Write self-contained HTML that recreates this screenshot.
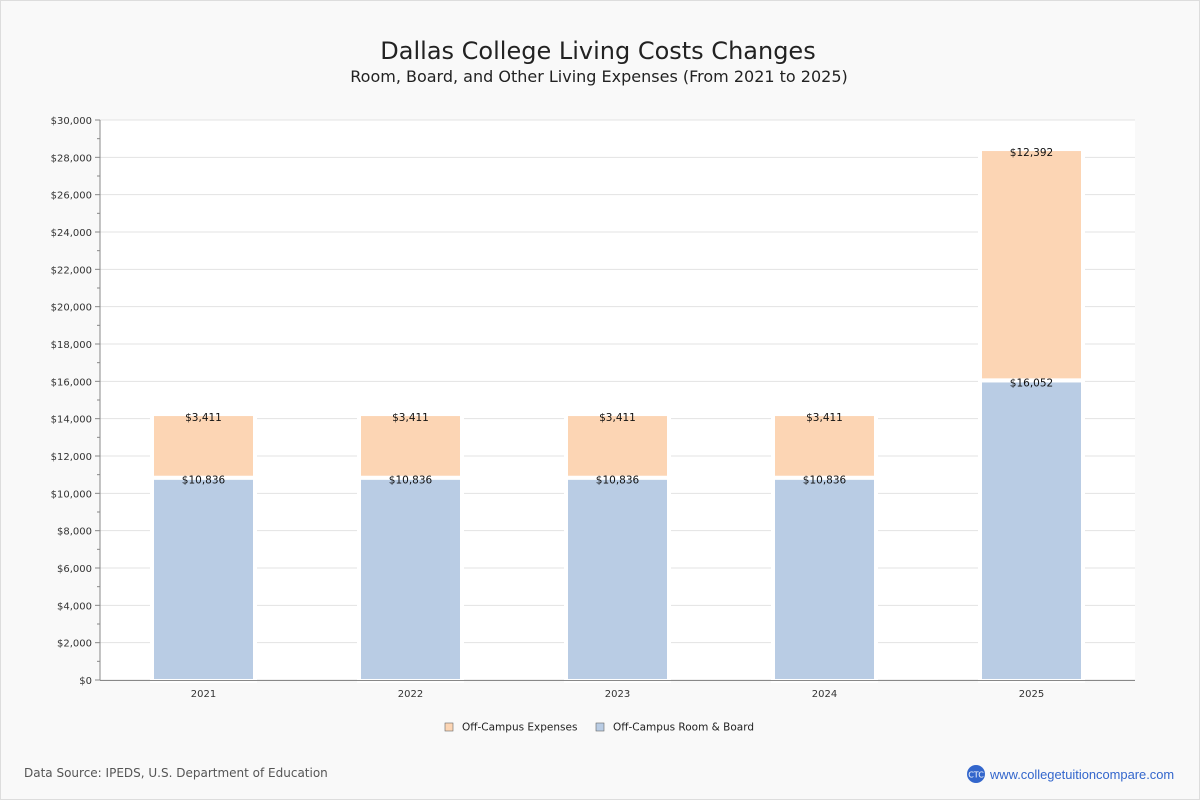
<!DOCTYPE html>
<html><head><meta charset="utf-8"><style>
body{margin:0;background:#fff;font-family:"DejaVu Sans","Liberation Sans",sans-serif;}
#wrap{position:relative;width:1198px;height:798px;border:1px solid #ddd;background:#f9f9f9;}
</style></head><body>
<div id="wrap">
<svg id="c" width="1198" height="798" style="position:absolute;left:0;top:0">
<text x="597" y="58" text-anchor="middle" font-size="24" fill="#222">Dallas College Living Costs Changes</text>
<text x="598" y="81" text-anchor="middle" font-size="16" fill="#222">Room, Board, and Other Living Expenses (From 2021 to 2025)</text>
<rect x="99" y="119" width="1035" height="560" fill="#fff"/>
<g id="grid"></g><g id="bars"></g><g id="axes"></g><g id="labels"></g>
<g>
<rect x="444" y="722" width="8" height="8" fill="#fcd5b4" stroke="#666" stroke-width="0.6"/>
<text x="461" y="729.5" font-size="10.5" fill="#222">Off-Campus Expenses</text>
<rect x="595" y="722" width="8" height="8" fill="#b9cce4" stroke="#666" stroke-width="0.6"/>
<text x="612" y="729.5" font-size="10.5" fill="#222">Off-Campus Room &amp; Board</text>
</g>
<text x="23" y="776" font-size="12" fill="#555">Data Source: IPEDS, U.S. Department of Education</text>
<circle cx="975" cy="773" r="9" fill="#3366cc"/>
<text x="975" y="776.5" text-anchor="middle" font-size="8" fill="#fff">CTC</text>
<text x="989" y="778" font-size="12.9" fill="#3366cc" font-family="Liberation Sans, sans-serif">www.collegetuitioncompare.com</text>
</svg>
</div>
<script>
const categories=["2021","2022","2023","2024","2025"];
const roomBoard=[10836,10836,10836,10836,16052];
const expenses=[3411,3411,3411,3411,12392];
const yTicks=[0,2000,4000,6000,8000,10000,12000,14000,16000,18000,20000,22000,24000,26000,28000,30000];
const NS="http://www.w3.org/2000/svg";
const X0=99,X1=1134,Y0=679,Y1=119,YMAX=30000;
const y=v=>Y0-(v/YMAX)*(Y0-Y1);
const bw=(X1-X0)/categories.length;
const xc=i=>X0+bw*(i+0.5);
function mk(t,a,p){const e=document.createElementNS(NS,t);for(const k in a)e.setAttribute(k,a[k]);p.appendChild(e);return e;}
const g=document.getElementById('grid'),b=document.getElementById('bars'),l=document.getElementById('labels'),ax=document.getElementById('axes');
yTicks.forEach(v=>{
 const ln=mk('line',{x1:X0,x2:X1,y1:y(v),y2:y(v),stroke:'#e3e3e3'},g);
 
 
 mk('line',{x1:X0-5,x2:X0,y1:y(v),y2:y(v),stroke:'#888'},ax);
 const t=mk('text',{x:X0-8,y:y(v)+4,'text-anchor':'end','font-size':10,fill:'#333'},ax);
 t.textContent='$'+v.toLocaleString('en-US');
 
 
 if(v<YMAX) mk('line',{x1:X0-3,x2:X0,y1:y(v+1000),y2:y(v+1000),stroke:'#888'},ax);
});
mk('line',{x1:X0,x2:X0,y1:Y1,y2:Y0,stroke:'#888'},ax);
mk('line',{x1:X0,x2:X1,y1:Y0+0.5,y2:Y0+0.5,stroke:'#888'},ax);
categories.forEach((c,i)=>{
 const cx=xc(i),w=103;
 const r1=mk('rect',{x:cx-w/2,y:y(roomBoard[i]),width:w,height:Y0+1-y(roomBoard[i]),fill:'#b9cce4',stroke:'#fff','stroke-width':4},b);
 
 
 const top=roomBoard[i]+expenses[i];
 const r2=mk('rect',{x:cx-w/2,y:y(top),width:w,height:y(roomBoard[i])-y(top),fill:'#fcd5b4',stroke:'#fff','stroke-width':4},b);
 
 
 const t1=mk('text',{x:cx,y:y(roomBoard[i])+6,'text-anchor':'middle','font-size':10.5,fill:'#111'},l);
 t1.textContent='$'+roomBoard[i].toLocaleString('en-US');
 
 
 const t2=mk('text',{x:cx,y:y(top)+7,'text-anchor':'middle','font-size':10.5,fill:'#111'},l);
 t2.textContent='$'+expenses[i].toLocaleString('en-US');
 
 
 const xt=mk('text',{x:cx,y:Y0+17,'text-anchor':'middle','font-size':10,fill:'#333'},l);
 xt.textContent=c;
 
 
});
</script>
</body></html>
